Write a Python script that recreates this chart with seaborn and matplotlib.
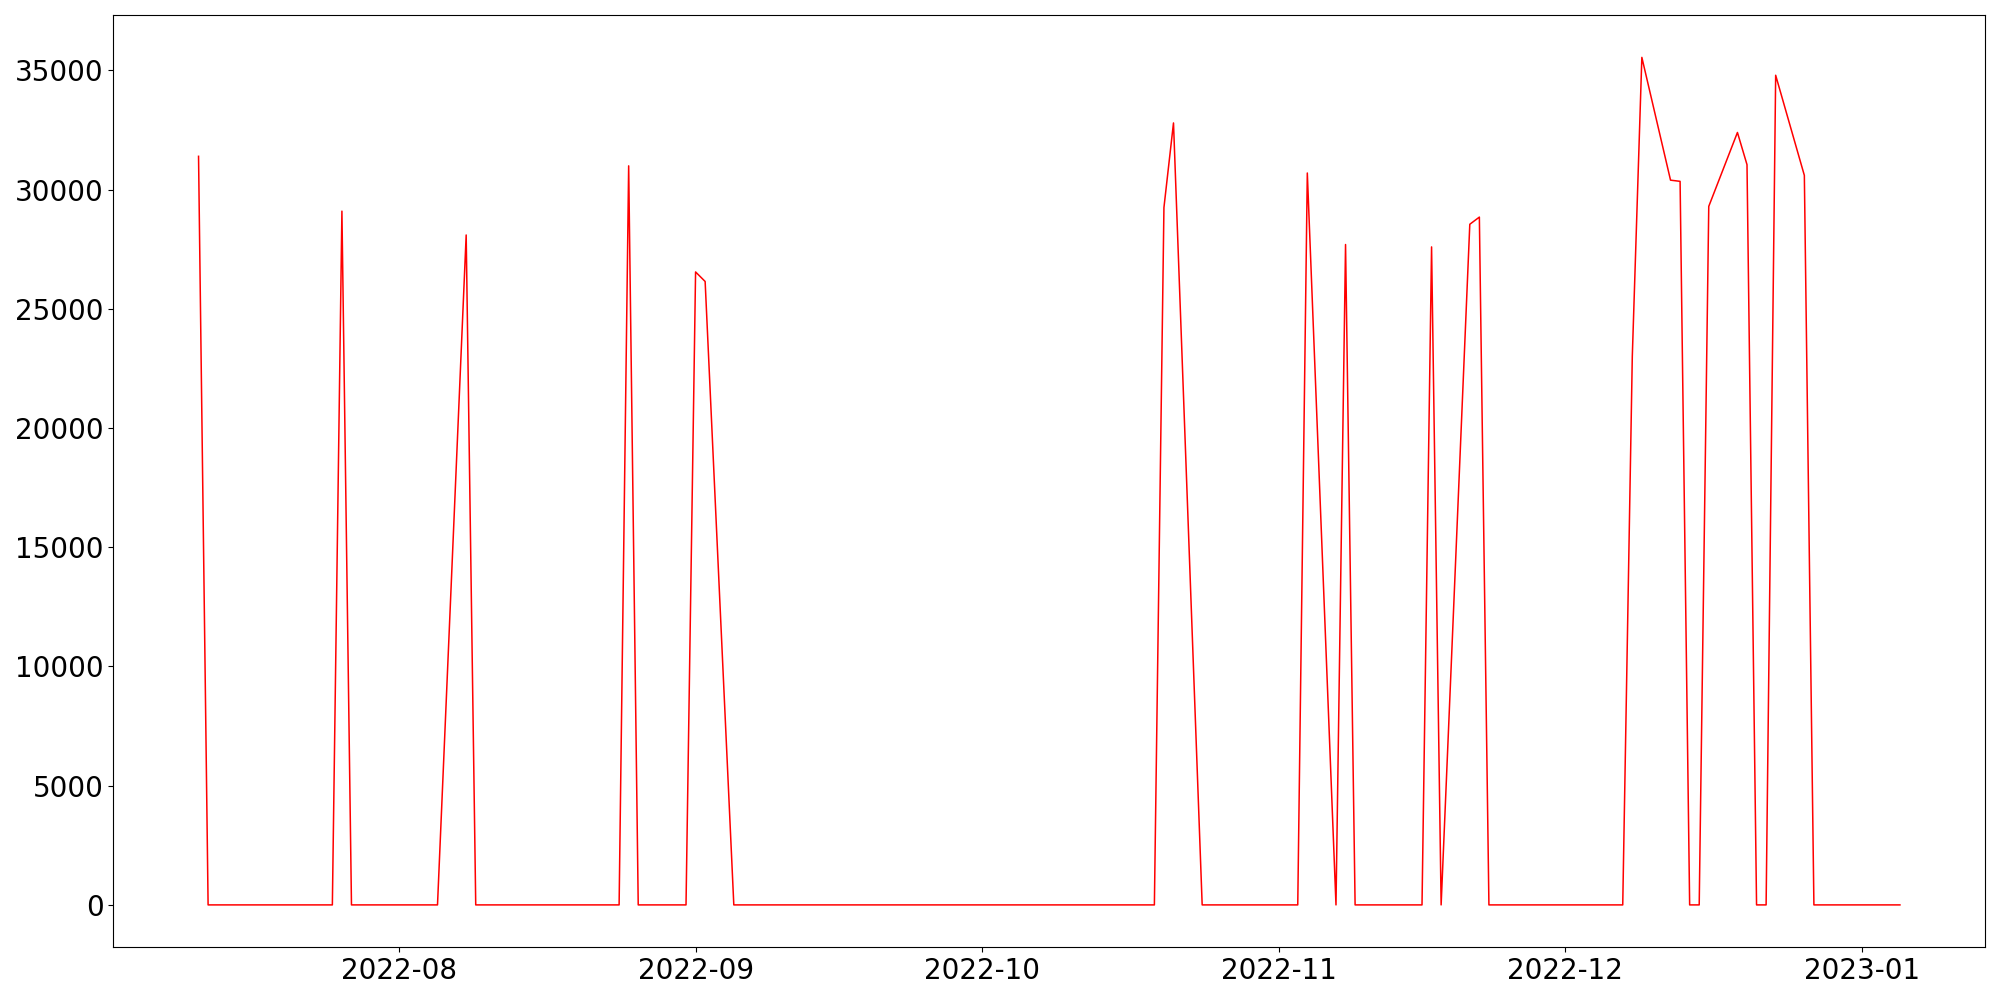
import pandas as pd
import matplotlib
matplotlib.use("Agg")
import matplotlib.pyplot as plt
import seaborn as sns

# business-day series, only the non-zero days are listed; every other day reads 0
start_date = "2022-07-11"
end_date = "2023-01-05"
spike_dates = [
    "2022-07-11", "2022-07-26", "2022-08-08", "2022-08-25", "2022-09-01",
    "2022-09-02", "2022-10-20", "2022-10-21", "2022-11-04", "2022-11-08",
    "2022-11-17", "2022-11-21", "2022-11-22", "2022-12-08", "2022-12-09",
    "2022-12-12", "2022-12-13", "2022-12-16", "2022-12-19", "2022-12-20",
    "2022-12-23", "2022-12-26",
]
spike_values = [
    31400, 29100, 28100, 31000, 26550,
    26150, 29250, 32800, 30700, 27700,
    27600, 28550, 28850, 23000, 35550,
    30400, 30350, 29300, 32400, 31050,
    34800, 30600,
]

days = pd.bdate_range(start_date, end_date)
series = pd.Series(spike_values, index=pd.to_datetime(spike_dates))
series = series.reindex(days, fill_value=0)
df = pd.DataFrame({"date": days, "value": series.values})

fig, ax = plt.subplots(figsize=(20, 10), dpi=100)
sns.lineplot(data=df, x="date", y="value", color="red", linewidth=1.1, ax=ax)
ax.set_xlabel("")
ax.set_ylabel("")
ax.tick_params(axis="both", labelsize=20)

plt.tight_layout()
fig.savefig("out.png")
